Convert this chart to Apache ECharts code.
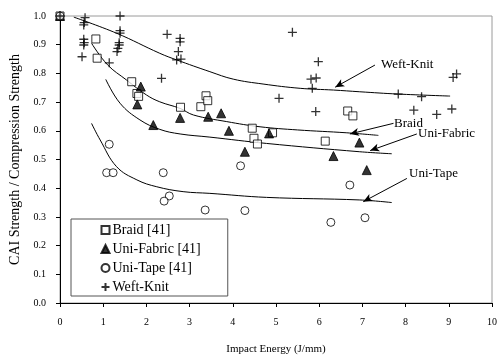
<!DOCTYPE html>
<html>
<head>
<meta charset="utf-8">
<script src="https://cdn.jsdelivr.net/npm/echarts@6/dist/echarts.min.js"></script>
<style>
    html, body { margin: 0; padding: 0; background: #fff; }
    #chart { width: 498px; height: 356px; }
</style>
</head>
<body>
<div id="chart"></div>
<script>
// 散点数据 [impact energy, CAI / compression]
let braid = [[0, 1.0], [0.83, 0.92], [0.86, 0.853], [1.66, 0.771], [1.78, 0.73], [1.82, 0.72],
    [2.79, 0.682], [3.26, 0.684], [3.38, 0.722], [3.42, 0.705], [4.45, 0.609], [4.49, 0.574],
    [4.57, 0.554], [4.92, 0.593], [6.14, 0.564], [6.66, 0.669], [6.78, 0.652]];
let uniFabric = [[0, 1.0], [1.79, 0.692], [1.87, 0.754], [2.16, 0.62], [2.78, 0.645], [3.43, 0.649],
    [3.73, 0.661], [3.91, 0.60], [4.28, 0.527], [4.84, 0.591], [6.33, 0.512], [6.93, 0.559], [7.10, 0.463]];
let uniTape = [[0, 1.0], [1.14, 0.553], [1.08, 0.454], [1.23, 0.454], [2.39, 0.454], [2.53, 0.373],
    [2.41, 0.355], [3.36, 0.324], [4.18, 0.478], [4.28, 0.322], [6.27, 0.281], [6.71, 0.411], [7.06, 0.297]];
let weftKnit = [[0, 1.0], [0.58, 0.994], [0.56, 0.977], [0.55, 0.969], [0.55, 0.919], [0.56, 0.907],
    [0.55, 0.899], [0.51, 0.858], [1.39, 1.0], [1.39, 0.949], [1.39, 0.94], [1.37, 0.907], [1.37, 0.899],
    [1.34, 0.887], [1.32, 0.876], [1.14, 0.837], [2.35, 0.783], [2.48, 0.936], [2.78, 0.922], [2.78, 0.91],
    [2.74, 0.876], [2.70, 0.847], [2.80, 0.85], [5.07, 0.713], [5.38, 0.943], [5.81, 0.78], [5.93, 0.784],
    [5.84, 0.748], [5.98, 0.841], [5.92, 0.667], [7.83, 0.728], [8.19, 0.672], [8.37, 0.719], [8.72, 0.657],
    [9.07, 0.676], [9.10, 0.786], [9.18, 0.798]];

// 拟合曲线
let weftCurve = [[0.32, 0.996], [1.31, 0.94], [2.31, 0.87], [2.7, 0.847], [3.47, 0.806], [4.01, 0.78],
    [4.7, 0.763], [5.56, 0.748], [6.33, 0.742], [6.94, 0.736], [7.83, 0.728], [9.03, 0.721]];
let braidCurve = [[0.73, 0.905], [1.1, 0.83], [1.54, 0.777], [2.0, 0.725], [2.31, 0.701], [2.78, 0.678],
    [3.09, 0.655], [3.86, 0.632], [4.63, 0.614], [5.5, 0.603], [6.64, 0.593], [7.37, 0.584]];
let fabricCurve = [[1.06, 0.779], [1.39, 0.696], [1.85, 0.638], [2.31, 0.605], [2.78, 0.589],
    [3.47, 0.578], [4.78, 0.556], [6.94, 0.527], [7.68, 0.52]];
let tapeCurve = [[0.73, 0.626], [0.93, 0.568], [1.31, 0.475], [1.78, 0.429], [2.24, 0.405],
    [2.85, 0.388], [3.47, 0.382], [4.78, 0.368], [6.94, 0.359], [7.68, 0.35]];

// 标注箭头 [from, to]
let arrows = {
    weft: [[7.29, 0.829], [6.37, 0.752]],
    braid: [[7.72, 0.626], [6.71, 0.589]],
    fabric: [[8.26, 0.589], [7.18, 0.531]],
    tape: [[8.03, 0.434], [7.02, 0.353]]
};

let font = "'Liberation Serif', 'Times New Roman', serif";
let plusPath = 'path://M0,5L10,5M5,0L5,10';

let myChart = echarts.init(document.getElementById('chart'), null, { renderer: 'canvas' });

function curve(data, arrow) {
    return {
        type: 'line',
        data: data,
        smooth: 0.4,
        showSymbol: false,
        silent: true,
        lineStyle: { color: '#000', width: 1 },
        markLine: {
            silent: true,
            symbol: ['none', 'arrow'],
            symbolSize: [6, 9],
            label: { show: false },
            lineStyle: { color: '#000', width: 1, type: 'solid' },
            data: [[{ coord: arrow[0] }, { coord: arrow[1] }]]
        },
        z: 1
    };
}

function scatter(name, data, symbol, size, filled) {
    let isPlus = symbol === plusPath;
    return {
        name: name,
        type: 'scatter',
        data: data,
        symbol: symbol,
        symbolSize: size,
        clip: false,
        itemStyle: {
            color: filled ? '#000' : (isPlus ? 'none' : '#fff'),
            borderColor: '#000',
            borderWidth: isPlus ? 1.3 : 1
        },
        z: 3
    };
}

let option = {
    animation: false,
    textStyle: { fontFamily: font },
    grid: {
        left: 60, right: 6, top: 16, bottom: 53,
        outerBoundsMode: 'none',
        containLabel: false,
        show: true, borderColor: '#9a9a9a', borderWidth: 1
    },
    xAxis: {
        type: 'value',
        min: 0, max: 10, interval: 1,
        name: 'Impact Energy (J/mm)',
        nameLocation: 'middle',
        nameGap: 41,
        nameTextStyle: { fontFamily: font, fontSize: 11, color: '#000' },
        axisLine: { lineStyle: { color: '#000' } },
        axisTick: { inside: false, length: 4, lineStyle: { color: '#000' } },
        axisLabel: { fontFamily: font, fontSize: 10, color: '#000', margin: 14 },
        splitLine: { show: false }
    },
    yAxis: {
        type: 'value',
        min: 0, max: 1, interval: 0.1,
        name: 'CAI Strength / Compression Strength',
        nameLocation: 'middle',
        nameGap: 37,
        nameTextStyle: { fontFamily: font, fontSize: 14, color: '#000' },
        axisLine: { show: true, lineStyle: { color: '#000' } },
        axisTick: { show: true, length: 4, lineStyle: { color: '#000' } },
        axisLabel: {
            fontFamily: font, fontSize: 10, color: '#000', margin: 14,
            formatter: v => v.toFixed(1)
        },
        splitLine: { show: false }
    },
    legend: {
        data: ['Braid [41]', 'Uni-Fabric [41]', 'Uni-Tape [41]', 'Weft-Knit'],
        orient: 'vertical',
        left: 71,
        top: 219,
        padding: [4, 27, 2, 28],
        itemGap: 5,
        itemWidth: 8,
        itemHeight: 8,
        backgroundColor: '#fff',
        borderColor: '#555',
        borderWidth: 1,
        borderRadius: 0,
        textStyle: { fontFamily: font, fontSize: 14, color: '#000', padding: [0, 0, 0, -2] }
    },
    graphic: [
        { type: 'text', left: 381, top: 58, style: { text: 'Weft-Knit', font: '13px ' + font, fill: '#000' } },
        { type: 'text', left: 394, top: 117, style: { text: 'Braid', font: '13px ' + font, fill: '#000' } },
        { type: 'text', left: 418, top: 127, style: { text: 'Uni-Fabric', font: '13px ' + font, fill: '#000' } },
        { type: 'text', left: 409, top: 167, style: { text: 'Uni-Tape', font: '13px ' + font, fill: '#000' } }
    ],
    series: [
        curve(weftCurve, arrows.weft),
        curve(braidCurve, arrows.braid),
        curve(fabricCurve, arrows.fabric),
        curve(tapeCurve, arrows.tape),
        scatter('Braid [41]', braid, 'rect', 8, false),
        scatter('Uni-Fabric [41]', uniFabric, 'triangle', 9, true),
        scatter('Uni-Tape [41]', uniTape, 'circle', 8, false),
        scatter('Weft-Knit', weftKnit, plusPath, 9, false)
    ]
};

myChart.setOption(option);
</script>
</body>
</html>
